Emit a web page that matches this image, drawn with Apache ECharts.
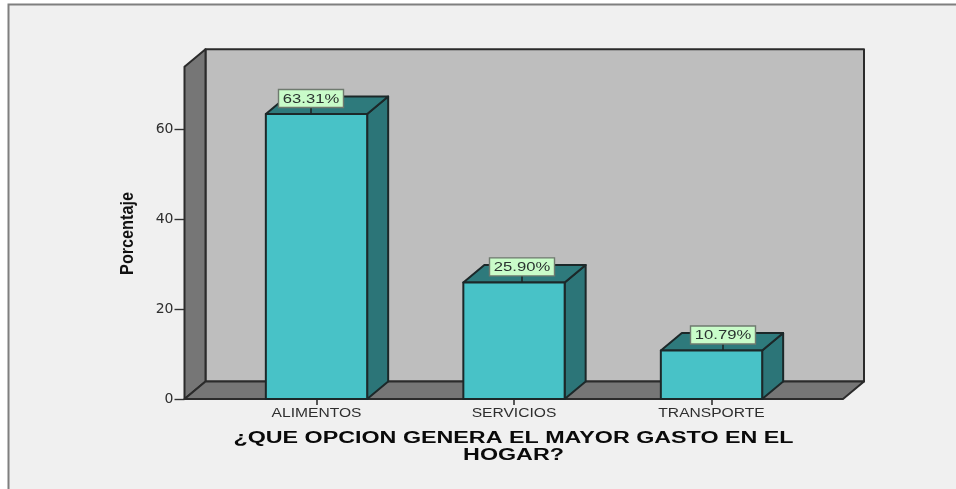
<!DOCTYPE html>
<html><head><meta charset="utf-8">
<style>html,body{margin:0;padding:0;background:#fff}#c{width:956px;height:489px}</style>
<script src="https://cdn.jsdelivr.net/npm/echarts@6/dist/echarts.min.js"></script>
</head><body><div id="c"></div>
<script>
const categories = ['ALIMENTOS', 'SERVICIOS', 'TRANSPORTE'];
const percentages = [63.31, 25.90, 10.79];
const yTicks = [0, 20, 40, 60];
const yAxisName = 'Porcentaje';
const xAxisTitleLines = ['¿QUE OPCION GENERA EL MAYOR GASTO EN EL', 'HOGAR?'];

// layout / style constants
const labelNudge = [-5.5, 8, 11.5];
const depthX = 21, depthY = -17.5, sideExtent = 33.25;
const font = '"Liberation Sans", Arial, sans-serif';
const edge = '#1c2829';

function poly(points, fill, stroke, w) {
  return {type: 'polygon', shape: {points}, style: {fill, stroke: stroke || edge, lineWidth: w || 2, lineJoin: 'round'}};
}
function wideText(text, x, y, size, scaleX, fill, weight) {
  return {type: 'text', x, y, scaleX, style: {text, x: 0, y: 0, align: 'center', verticalAlign: 'middle',
    fill, font: (weight || 'normal') + ' ' + size + 'px ' + font}};
}
function renderRoom(params, api) {
  const r = params.coordSys;
  const l = r.x - sideExtent, rgt = r.x + r.width + sideExtent - 0.5, t = r.y, b = r.y + r.height;
  const wall = '#767676', back = '#bebebe', line = '#2b2b2b';
  return {type: 'group', children: [
    poly([[l + depthX, t + depthY], [rgt + depthX, t + depthY], [rgt + depthX, b + depthY], [l + depthX, b + depthY]], back, line),
    poly([[l, t], [l + depthX, t + depthY], [l + depthX, b + depthY], [l, b]], wall, line),
    poly([[l, b], [l + depthX, b + depthY], [rgt + depthX, b + depthY], [rgt, b]], wall, line)
  ]};
}
function renderBar(params, api) {
  const i = api.value(0), v = api.value(1);
  const p0 = api.coord([i, 0]), p1 = api.coord([i, v]);
  const w = api.size([1, 0])[0] * 0.513;
  const x0 = p0[0] - w / 2, x1 = p0[0] + w / 2, yb = p0[1], yt = p1[1];
  const side = '#2c7578', top = '#2e7a7c';
  return {type: 'group', children: [
    poly([[x1, yb], [x1 + depthX, yb + depthY], [x1 + depthX, yt + depthY], [x1, yt]], side),
    poly([[x0, yt], [x0 + depthX, yt + depthY], [x1 + depthX, yt + depthY], [x1, yt]], top),
    poly([[x0, yb], [x0, yt], [x1, yt], [x1, yb]], '#48c2c7')
  ]};
}
function renderLabel(params, api) {
  const i = api.value(0), v = api.value(1);
  const p1 = api.coord([i, v]);
  const cx = p1[0] + labelNudge[i], yt = p1[1];
  const boxW = 65, boxH = 18, boxY = yt - 24.5;
  return {type: 'group', children: [
    {type: 'line', shape: {x1: cx, y1: boxY + boxH, x2: cx, y2: yt}, style: {stroke: edge, lineWidth: 1.6}},
    {type: 'rect', shape: {x: cx - boxW / 2, y: boxY, width: boxW, height: boxH},
      style: {fill: '#c9fcc9', stroke: '#6f7a6f', lineWidth: 1.4}},
    wideText(v.toFixed(2) + '%', cx, boxY + boxH / 2 + 0.5, 13, 1.28, '#2a3330')
  ]};
}
function renderCategory(params, api) {
  const i = api.value(0);
  const p = api.coord([i, 0]);
  return wideText(categories[i], p[0], p[1] + 15, 12, 1.3, '#2e2e2e');
}

const chart = echarts.init(document.getElementById('c'), null, {renderer: 'canvas'});
chart.setOption({
  animation: false,
  backgroundColor: '#ffffff',
  grid: {left: 217.75, width: 592.5, top: 66.8, height: 332.2},
  xAxis: {type: 'category', data: categories, boundaryGap: true,
    axisLine: {show: false},
    axisTick: {show: true, alignWithLabel: true, length: 6, lineStyle: {color: '#333', width: 1.6}},
    axisLabel: {show: false}},
  yAxis: {type: 'value', min: 0, max: 73.8, offset: sideExtent,
    splitLine: {show: false},
    axisLine: {show: true, lineStyle: {color: '#2b2b2b', width: 2}},
    axisTick: {show: true, length: 10, customValues: yTicks, lineStyle: {color: '#333', width: 1.4}},
    axisLabel: {show: true, margin: 11, customValues: yTicks, color: '#2e2e2e', fontSize: 14, fontFamily: '"DejaVu Sans"'}},
  graphic: [
    {type: 'rect', z: -10, shape: {x: 8.5, y: 4.5, width: 1000, height: 600},
      style: {fill: '#f0f0f0', stroke: '#7f7f7f', lineWidth: 2}},
    {type: 'text', z: 10, x: 128, y: 233.5, rotation: Math.PI / 2, scaleX: 0.9,
      style: {text: yAxisName, align: 'center', verticalAlign: 'middle', fill: '#111', font: 'bold 18px ' + font}},
    {type: 'text', z: 10, x: 513.5, y: 439, scaleX: 1.455,
      style: {text: xAxisTitleLines[0], align: 'center', verticalAlign: 'middle', fill: '#0a0a0a', font: 'bold 16px ' + font}},
    {type: 'text', z: 10, x: 513.5, y: 456, scaleX: 1.455,
      style: {text: xAxisTitleLines[1], align: 'center', verticalAlign: 'middle', fill: '#0a0a0a', font: 'bold 16px ' + font}}
  ],
  series: [
    {type: 'custom', coordinateSystem: 'cartesian2d', z: 1, clip: false, silent: true, data: [[0, 0]], renderItem: renderRoom},
    {type: 'custom', coordinateSystem: 'cartesian2d', z: 3, clip: false, data: percentages.map((v, i) => [i, v]), renderItem: renderBar},
    {type: 'custom', coordinateSystem: 'cartesian2d', z: 4, clip: false, data: percentages.map((v, i) => [i, v]), renderItem: renderLabel},
    {type: 'custom', coordinateSystem: 'cartesian2d', z: 4, clip: false, data: percentages.map((v, i) => [i, 0]), renderItem: renderCategory}
  ]
});
</script></body></html>
